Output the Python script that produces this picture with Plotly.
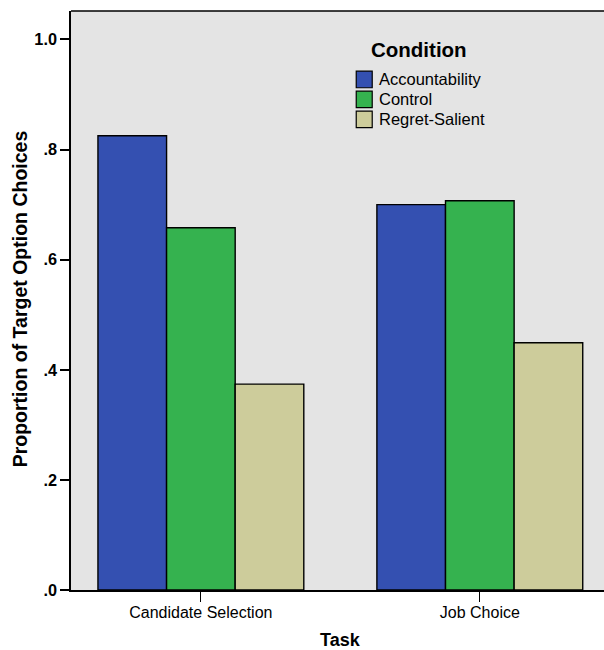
import plotly.graph_objects as go

tasks = ["Candidate Selection", "Job Choice"]
conditions = ["Accountability", "Control", "Regret-Salient"]
accountability = [0.825, 0.700]
control = [0.658, 0.707]
regret_salient = [0.374, 0.449]
y_tickvals = [0.0, 0.2, 0.4, 0.6, 0.8, 1.0]
y_ticktext = [".0", ".2", ".4", ".6", ".8", "1.0"]

colors = ["#3450B1", "#35B24F", "#CDCC9B"]
series = [accountability, control, regret_salient]

FONT = "Liberation Sans, Arial, sans-serif"
W, H = 604, 650
L, T, B = 70.5, 10.5, 590.0


def px(xp):
    return (xp - L) / (W - L)


def py(yp):
    return (B - yp) / (B - T)


fig = go.Figure()
for name, vals, col in zip(conditions, series, colors):
    fig.add_trace(go.Bar(
        x=tasks, y=vals, name=name,
        marker=dict(color=col, line=dict(color="black", width=1.4)),
    ))

fig.update_layout(
    width=W, height=H,
    margin=dict(l=L, r=0, t=T, b=H - B),
    paper_bgcolor="white",
    plot_bgcolor="#E4E4E4",
    barmode="group",
    bargap=0.262,
    bargroupgap=0,
    font=dict(family=FONT, color="black"),
    showlegend=False,
    xaxis=dict(
        type="category",
        range=[-0.4656, 1.4452],
        showline=True, linecolor="black", linewidth=1.5,
        ticks="outside", ticklen=10, tickcolor="black", tickwidth=1,
        tickfont=dict(size=16, family=FONT),
        ticklabelstandoff=-3,
        showgrid=False, zeroline=False,
        automargin=False,
    ),
    yaxis=dict(
        range=[0, (B - T) / 551.0 * 1.0],
        tickvals=y_tickvals, ticktext=y_ticktext,
        showline=True, linecolor="black", linewidth=1.5,
        ticks="outside", ticklen=9, tickcolor="black", tickwidth=1.5,
        tickfont=dict(size=16.3, family=FONT, weight="bold"),
        showgrid=False, zeroline=False,
        automargin=False,
    ),
)

# top border of plot frame
fig.add_shape(type="line", xref="paper", yref="paper", x0=0, x1=1, y0=1, y1=1,
              line=dict(color="black", width=1.5))

# axis titles
fig.add_annotation(text="<b>Proportion of Target Option Choices</b>", xref="paper", yref="paper",
                   x=px(19.5), y=py(299), textangle=-90, showarrow=False,
                   xanchor="center", yanchor="middle", font=dict(size=19.5, family=FONT))
fig.add_annotation(text="<b>Task</b>", xref="paper", yref="paper",
                   x=px(340.5), y=py(640), showarrow=False,
                   xanchor="center", yanchor="middle", font=dict(size=18, family=FONT))

# legend (drawn inside the plot frame)
fig.add_annotation(text="<b>Condition</b>", xref="paper", yref="paper",
                   x=px(419), y=py(49), showarrow=False,
                   xanchor="center", yanchor="middle", font=dict(size=20.5, family=FONT))
row_centers = [79, 99, 119]
for name, col, rc in zip(conditions, colors, row_centers):
    fig.add_shape(type="rect", xref="paper", yref="paper",
                  x0=px(356), x1=px(372), y0=py(rc - 8.3), y1=py(rc + 8.3),
                  fillcolor=col, line=dict(color="black", width=1.2))
    fig.add_annotation(text=name, xref="paper", yref="paper",
                       x=px(376.5), y=py(rc), showarrow=False,
                       xanchor="left", yanchor="middle", font=dict(size=16.5, family=FONT))

fig.write_html("out.html", config={"displayModeBar": False},
               post_script="document.body.style.margin='0px';")
